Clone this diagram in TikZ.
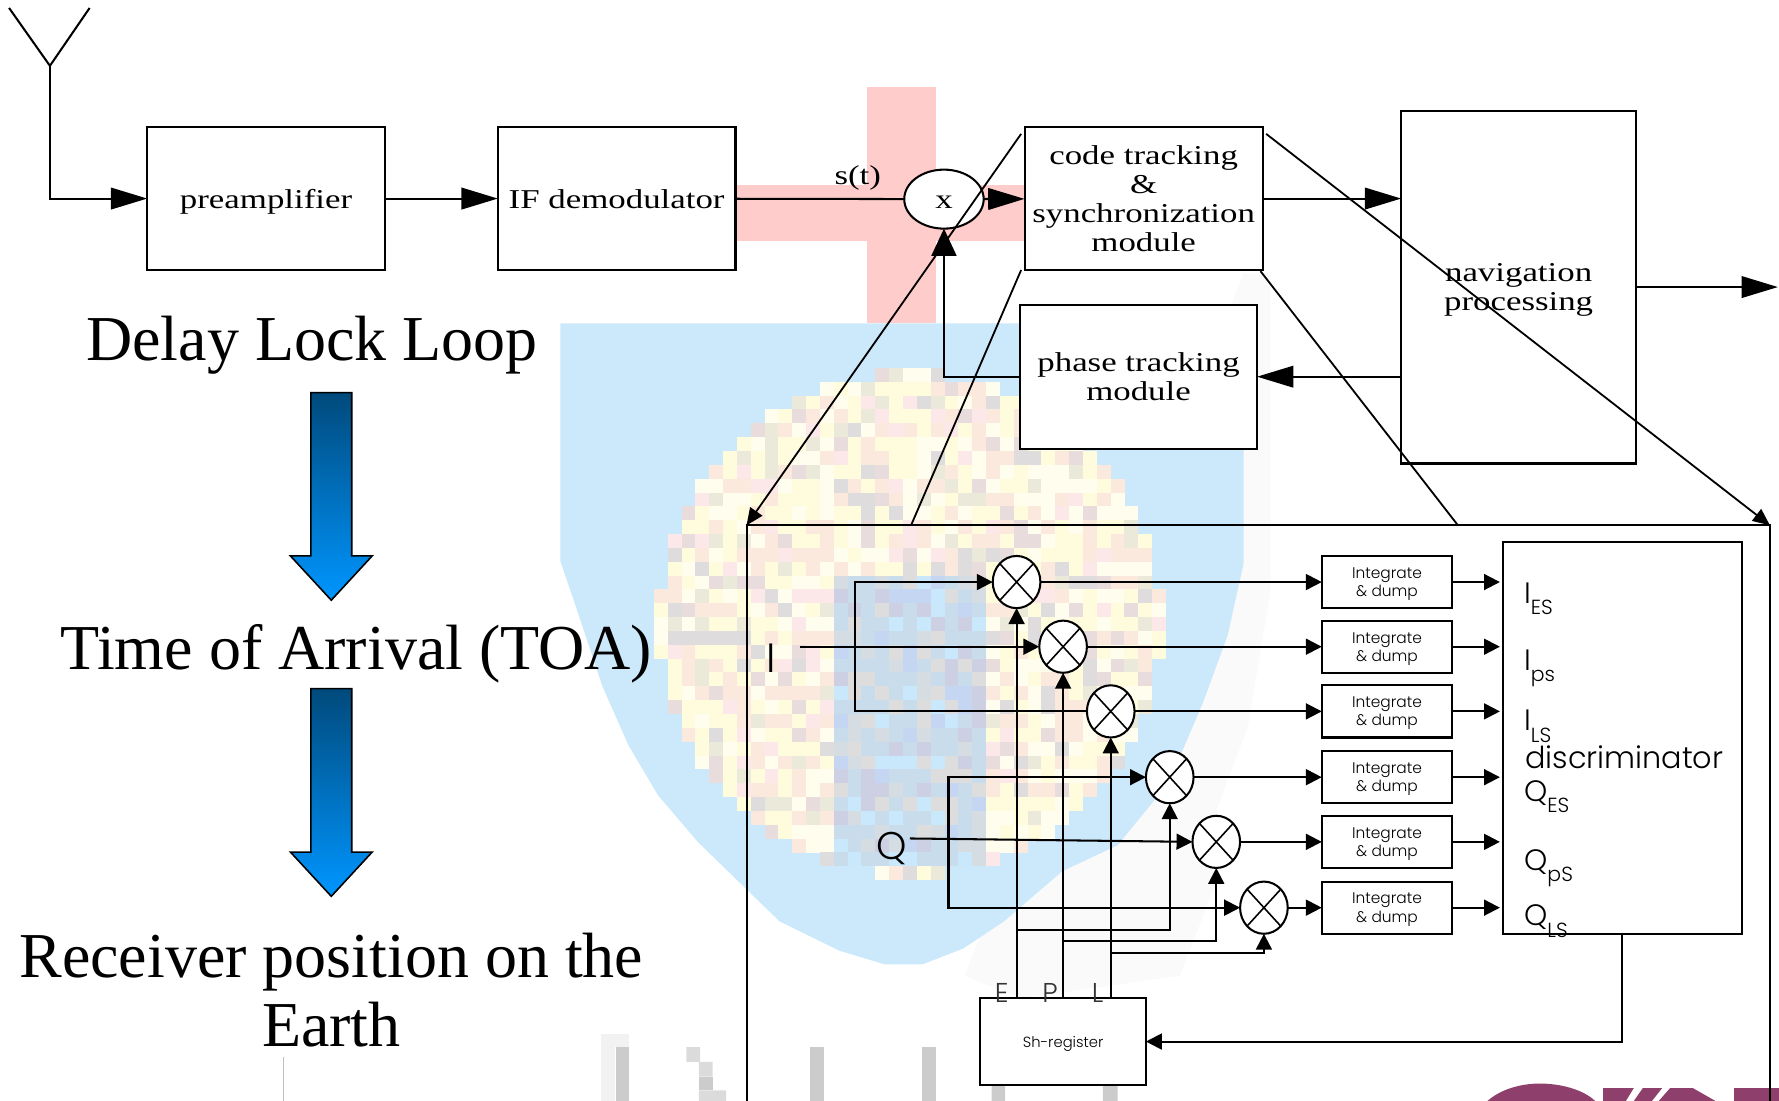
\documentclass[tikz,border=0pt]{standalone}
\usepackage{fontspec}
\setmainfont{Liberation Serif}
\newfontfamily\boxfont[FakeStretch=1.28]{Liberation Serif}
\newfontfamily\gothfont[UprightFont={* Light}]{Poppins}
\usepackage{tikz}
\usetikzlibrary{arrows.meta, positioning, shapes.geometric}

\definecolor{pinkcross}{HTML}{FFCCCC}
\definecolor{skyback}{HTML}{CCE8FB}
\definecolor{tileY}{HTML}{FFFBDD}
\definecolor{tileW}{HTML}{FFFDEE}
\definecolor{tileP}{HTML}{FBE9DD}
\definecolor{tileR}{HTML}{FCE8E8}
\definecolor{tileO}{HTML}{EAE9DA}
\definecolor{tileG}{HTML}{DEDCDC}
\definecolor{tileM}{HTML}{E8DCDC}
\definecolor{coreA}{HTML}{C9DCEC}
\definecolor{coreB}{HTML}{C5D6F3}
\definecolor{coreC}{HTML}{CDCFE2}
\definecolor{coreD}{HTML}{C9E8FB}
\definecolor{coreE}{HTML}{D5DDE3}
\definecolor{coreF}{HTML}{DDDDDD}
\definecolor{arrowtop}{HTML}{004A7C}
\definecolor{arrowlow}{HTML}{0096FF}
\definecolor{logomaroon}{HTML}{8E3F6B}
\pgfmathdeclarerandomlist{warmtiles}{{tileY}{tileY}{tileW}{tileP}{tileY}{tileP}{tileR}{tileO}{tileY}{tileG}{tileM}{tileW}{tileP}{tileW}}
\pgfmathdeclarerandomlist{coretiles}{{coreA}{coreA}{coreB}{coreC}{coreD}{coreE}{coreA}{coreF}}

\begin{document}
\begin{tikzpicture}[
  x=0.5pt, y=-0.5pt,
  block/.style={rectangle, draw=black, fill=white, line width=0.9pt, inner sep=0pt, outer sep=0pt, align=center,
    text depth=0pt, font=\boxfont\fontsize{12}{12.9}\selectfont},
  intbox/.style={rectangle, draw=black, fill=white, line width=0.9pt, inner sep=0pt, outer sep=0pt, align=center,
    text depth=0pt, minimum width=57.5pt, minimum height=23pt, font=\gothfont\fontsize{6.8}{8}\selectfont},
  mixer/.style={ellipse, draw=black, fill=white, line width=0.9pt, inner sep=0pt, outer sep=0pt,
    minimum width=21pt, minimum height=23pt,
    path picture={\draw[line width=0.7pt] (path picture bounding box.north west) -- (path picture bounding box.south east)
      (path picture bounding box.north east) -- (path picture bounding box.south west);}},
  headline/.style={font=\fontsize{28.2}{30.5}\selectfont, align=center, inner sep=0pt},
  siglabel/.style={anchor=base west, inner sep=0pt, font=\gothfont\fontsize{13}{13}\selectfont},
  taplabel/.style={anchor=base, inner sep=0pt, text=black!80, font=\gothfont\fontsize{12}{12}\selectfont},
  line/.style={line width=0.9pt},
  bigarr/.style={line width=0.9pt, -{Triangle[length=16pt, width=9.5pt]}},
  sigarr/.style={line width=0.9pt, -{Triangle[length=7pt, width=7pt]}},
  zoomarr/.style={line width=0.8pt, -{Triangle[length=7.5pt, width=6.5pt]}},
  downarr/.style={draw=black, line width=0.7pt, top color=arrowtop, bottom color=arrowlow}
]
\useasboundingbox (0,0) rectangle (1568,970.4);

% leftovers of the slide behind the diagram
\fill[black!2] (1096,241) -- (1120,241) -- (1120,520) -- (1100,640) -- (1070,720) -- (1075,770) -- (1040,860) -- (900,880) -- (850,860) -- cycle;
\fill[pinkcross] (764,77) rectangle (825,285);
\fill[pinkcross] (648,163) rectangle (903,212);
\fill[skyback] (494,285) -- (1096,285) -- (1096,497) -- (1082,560) -- (1060,620) -- (1030,690) -- (985,745) -- (936,768) -- (885,812) -- (849,836) -- (813,850) -- (780,850)
  -- (740,838) -- (687,812) -- (653,779) -- (615,742) -- (580,701) -- (554,657) -- (531,605) -- (506,530) -- (494,495) -- cycle;
\pgfmathsetseed{11}
\foreach \tx in {0,...,36}{
  \foreach \ty in {0,...,36}{
    \pgfmathtruncatemacro\intile{veclen(\tx-18,\ty-18)<18.2 ? 1 : 0}
    \ifnum\intile=1
      \pgfmathtruncatemacro\incore{(\tx>=13 && \tx<=23 && \ty>=15 && \ty<=35) ? 1 : 0}
      \ifnum\incore=1 \pgfmathrandomitem{\tilecol}{coretiles}\else \pgfmathrandomitem{\tilecol}{warmtiles}\fi
      \fill[\tilecol] (576.3+\tx*12.2,324.3+\ty*12.2) rectangle +(12.3,12.3);
    \fi
  }
}
\foreach \tx in {1,...,6} \fill[tileG] (576.3+\tx*12.2,556) rectangle +(12.3,12.3);
\fill[black!5] (530,911) rectangle (554.5,923);
\fill[black!5] (530,923) rectangle (542,970.4);
\foreach \bx in {542.5,714,813}
  \fill[black!20] (\bx,923) rectangle (\bx+12,970.4);
\fill[black!14] (605,923) rectangle (617,936) (616,936) rectangle (628,949) (616,961) rectangle (640,970.4);
\fill[black!20] (616,949) rectangle (628,961);
\fill[black!20] (874,957) rectangle (886,970.4) (972,957) rectangle (985,970.4);
\fill[black!25] (249.5,932) rectangle (250.5,970.4);
\fill[logomaroon] (1311,970.4) .. controls (1325,958) and (1345,955) .. (1357,955) .. controls (1375,955) and (1395,960) .. (1406,970.4) -- cycle;
\fill[logomaroon] (1413,959) -- (1440,959) -- (1433,970.4) -- (1413,970.4) -- cycle;
\fill[logomaroon] (1448,959) -- (1465,959) -- (1456,970.4) -- (1440,970.4) -- cycle;
\fill[logomaroon] (1472,959) -- (1492,959) -- (1512,970.4) -- (1462,970.4) -- cycle;
\fill[logomaroon] (1528,959) -- (1568,959) -- (1568,970.4) -- (1528,970.4) -- cycle;

% top row
\coordinate (antl) at (8,7);
\coordinate (antr) at (79,7);
\coordinate (antj) at (44,58);
\node[block, minimum width=104.75pt, minimum height=63pt] (preamp) at (234.5,175) {preamplifier};
\node[block, minimum width=104.75pt, minimum height=63pt, right=49.75pt of preamp] (ifdem) {IF demodulator};
\node[ellipse, draw=black, fill=white, line width=0.9pt, inner sep=0pt, outer sep=0pt, minimum width=35pt, minimum height=26pt,
  text height=8pt, font=\boxfont\fontsize{12}{12}\selectfont] (mult) at (832,175.5) {x};
\node[font=\boxfont\fontsize{12}{12}\selectfont, inner sep=0pt] (st) at (756,157) {s(t)};
\node[block, minimum width=105pt, minimum height=63pt] (code) at (1008,175)
  {code tracking\\\&\\synchronization\\module};
\node[block, minimum width=104.5pt, minimum height=63.5pt] (phase) at (1003.5,332) {phase tracking\\module};
\node[block, minimum width=103.5pt, minimum height=155.5pt] (nav) at (1338.5,253) {navigation\\processing};
\coordinate (navout) at (1567,253);

\draw[line] (antl) -- (antj) -- (antr);
\draw[bigarr] (antj) |- (preamp.west);
\draw[bigarr] (preamp) -- (ifdem);
\draw[line] (ifdem) -- (mult);
\draw[bigarr] (mult) -- (code);
\draw[bigarr] (code) -- (code -| nav.west);
\draw[bigarr] (nav.east |- navout) -- (navout);
\draw[bigarr] (nav.west |- phase) -- (phase.east);
\draw[line width=0.9pt, -{Triangle[length=12pt, width=11pt]}] (phase.west) -| (mult.south);

% left column
\node[headline] (dll) at (275,304) {Delay Lock Loop};
\node[headline] (toa) at (314,576) {Time of Arrival (TOA)};
\node[headline] (rxpos) at (292,873) {Receiver position on the\\Earth};
\foreach \ay in {346,607}
  \path[downarr] (274,\ay) -- (310,\ay) -- (310,\ay+144) -- (328,\ay+144) -- (292,\ay+183) -- (256,\ay+144) -- (274,\ay+144) -- cycle;

% enlarged loop
\coordinate (outbl) at (658,970.4);
\coordinate (outtl) at (658,463);
\coordinate (outtr) at (1560,463);
\coordinate (outbr) at (1560,970.4);
\coordinate (zoommid) at (803,463);
\coordinate (zoomright) at (1285,463);
\draw[line] (outbl) -- (outtl) -- (outtr) -- (outbr);
\foreach \n/\x/\y in {1/896/513, 2/937/570, 3/979/627, 4/1031/685, 5/1072/742, 6/1114/800} {
  \node[mixer] (m\n) at (\x,\y) {};
  \node[intbox] (ig\n) at (1222.5,\y) {Integrate\\\& dump};
}
\node[rectangle, draw=black, line width=0.9pt, inner sep=0pt, outer sep=0pt, minimum width=105pt, minimum height=172.5pt] (disc) at (1430,650.5) {};
\node[rectangle, draw=black, fill=white, line width=0.9pt, inner sep=0pt, outer sep=0pt, minimum width=73pt, minimum height=38pt,
  text depth=0pt, font=\gothfont\fontsize{6.5}{8}\selectfont] (shreg) at (937,918) {Sh-register};
\foreach \n in {1,...,6} {
  \draw[sigarr] (m\n) -- (ig\n);
  \draw[sigarr, shorten >=1.5pt] (ig\n) -- (ig\n -| disc.west);
}

\node[inner sep=0pt, font=\gothfont\fontsize{18}{18}\selectfont] (iin) at (680,580) {I};
\node[inner sep=0pt, font=\gothfont\fontsize{17}{17}\selectfont] (qin) at (786,748) {Q};
\coordinate (istart) at (705,570);
\coordinate (qstart) at (802,739);
\coordinate (ibus) at (754,570);
\coordinate (qbus) at (836,742);
\coordinate (bre) at (896,820);
\coordinate (brp) at (937,829.5);
\coordinate (brl) at (979,840);
\draw[sigarr] (istart) -- (m2.west);
\draw[sigarr] (m3.west) -| (ibus) |- (m1.west);
\draw[sigarr] (qstart) -- (m5.west);
\draw[sigarr] (qbus) |- (m4.west);
\draw[sigarr] (qbus) |- (m6.west);
\draw[sigarr] (m1 |- shreg.north) -- (m1.south);
\draw[sigarr] (m2 |- shreg.north) -- (m2.south);
\draw[sigarr] (m3 |- shreg.north) -- (m3.south);
\draw[sigarr] (bre) -| (m4.south);
\draw[sigarr] (brp) -| (m5.south);
\draw[sigarr] (brl) -| (m6.south);
\draw[sigarr] (disc.south) |- (shreg.east);

\node[taplabel] (tape) at (883,884) {E};
\node[taplabel] (tapp) at (925.5,884) {P};
\node[taplabel] (tapl) at (967.5,884) {L};

\newcommand{\sigsub}[2]{#1\raisebox{-5pt}{\fontsize{9}{9}\selectfont #2}}
\node[siglabel] (ies) at (1343,532) {\sigsub{I}{ES}};
\node[siglabel] (ips) at (1343,591) {\sigsub{I}{ps}};
\node[siglabel] (ils) at (1343,644) {\sigsub{I}{LS}};
\node[siglabel, font=\gothfont\fontsize{13.35}{14}\selectfont] (disclabel) at (1344,677) {discriminator};
\node[siglabel] (qes) at (1343,706) {\sigsub{Q}{ES}};
\node[siglabel] (qps) at (1343,767) {\sigsub{Q}{pS}};
\node[siglabel] (qls) at (1343,816) {\sigsub{Q}{LS}};

% lines to the enlarged view
\draw[zoomarr] ([shift={(-3,6)}]code.north west) -- (outtl);
\draw[line width=0.8pt] ([shift={(-3,0)}]code.south west) -- (zoommid);
\draw[zoomarr] ([shift={(3,6)}]code.north east) -- (outtr);
\draw[line width=0.8pt] ([shift={(-2,1)}]code.south east) -- (zoomright);
\end{tikzpicture}
\end{document}
